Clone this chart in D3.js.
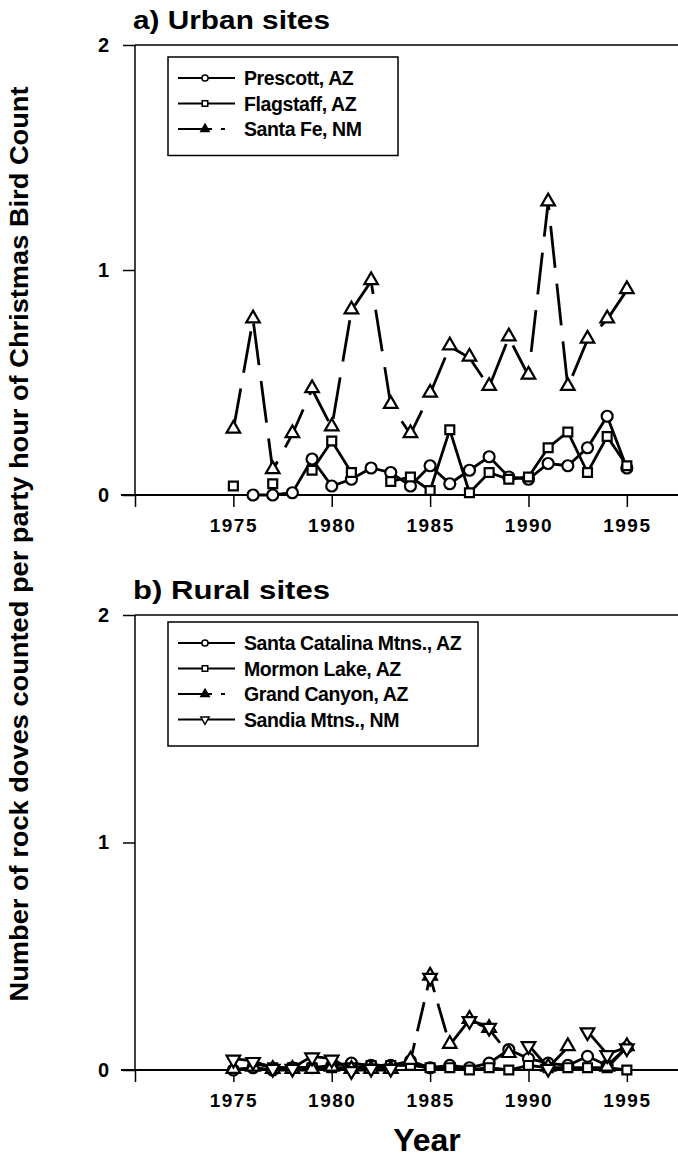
<!DOCTYPE html>
<html><head><meta charset="utf-8">
<script src="https://cdn.jsdelivr.net/npm/d3@7"></script>
<style>
body{margin:0;background:#fff;}
text{font-family:"Liberation Sans",Arial,sans-serif;font-weight:bold;fill:#000;}
</style></head>
<body>
<svg id="chart" width="678" height="1162"></svg>
<script>
const years = d3.range(1975, 1996);
const xTicks = [1970, 1975, 1980, 1985, 1990, 1995];
const xTickLabels = ["", "1975", "1980", "1985", "1990", "1995"];
const yTicks = [0, 1, 2];

// a) Urban sites
const prescott  = [null, 0.00, 0.00, 0.01, 0.16, 0.04, 0.07, 0.12, 0.10, 0.04, 0.13, 0.05, 0.11, 0.17, 0.08, 0.07, 0.14, 0.13, 0.21, 0.35, 0.12];
const flagstaff = [0.04, null, 0.05, null, 0.11, 0.24, 0.10, null, 0.06, 0.08, 0.02, 0.29, 0.01, 0.10, 0.07, 0.08, 0.21, 0.28, 0.10, 0.26, 0.13];
const santaFe   = [0.29, 0.78, 0.11, 0.27, 0.47, 0.30, 0.82, 0.95, 0.40, 0.27, 0.45, 0.66, 0.61, 0.48, 0.70, 0.53, 1.30, 0.48, 0.69, 0.78, 0.91];

// b) Rural sites
const santaCatalina = [0.00, 0.01, 0.00, 0.01, 0.01, 0.02, 0.03, 0.02, 0.02, 0.04, 0.01, 0.02, 0.01, 0.03, 0.09, 0.05, 0.03, 0.02, 0.06, 0.02, 0.10];
const mormonLake    = [null, 0.03, 0.01, 0.01, 0.01, 0.01, 0.01, 0.02, 0.02, 0.02, 0.01, 0.01, 0.00, 0.01, 0.00, 0.02, 0.01, 0.01, 0.01, 0.01, 0.00];
const grandCanyon   = [0.00, 0.01, 0.00, 0.00, 0.00, 0.01, 0.00, 0.00, 0.00, 0.04, 0.41, 0.11, 0.22, 0.18, 0.07, null, 0.01, 0.10, null, 0.01, 0.10];
const sandia        = [0.05, 0.04, 0.01, 0.01, 0.06, 0.05, 0.00, 0.01, 0.01, null, 0.41, null, 0.22, 0.19, null, 0.11, 0.01, null, 0.17, 0.07, 0.10];

const urbanNames = ["Prescott, AZ", "Flagstaff, AZ", "Santa Fe, NM"];
const ruralNames = ["Santa Catalina Mtns., AZ", "Mormon Lake, AZ", "Grand Canyon, AZ", "Sandia Mtns., NM"];

const svg = d3.select("#chart");
const x = d3.scaleLinear().domain([1970, 1997.6]).range([135, 678]);

const symbols = {
  circle: d3.symbol().type(d3.symbolCircle).size(95),
  square: d3.symbol().type(d3.symbolSquare).size(80),
  triangle: d3.symbol().type(d3.symbolTriangle).size(80),
  down: d3.symbol().type(d3.symbolTriangle).size(80)
};

function drawPanel(cfg) {
  const y = d3.scaleLinear().domain([0, 2]).range([cfg.y0, cfg.y2]);
  const g = svg.append("g");
  g.append("text").attr("x", 133).attr("y", cfg.y2 - 16).attr("font-size", 26)
    .attr("textLength", 197).attr("lengthAdjust", "spacingAndGlyphs").text(cfg.title);
  g.append("line").attr("x1", x(1970)).attr("x2", 678).attr("y1", y(2)).attr("y2", y(2))
    .attr("stroke", "#000").attr("stroke-width", 1.5);
  const xa = g.append("g").attr("transform", `translate(0,${y(0)})`)
    .call(d3.axisBottom(x).tickValues(xTicks).tickSize(12).tickPadding(12)
      .tickFormat((d, i) => xTickLabels[i]));
  xa.select(".domain").remove();
  xa.selectAll(".tick line").attr("stroke-width", 1.5);
  xa.selectAll(".tick text").attr("font-size", 19).attr("letter-spacing", 1.5)
    .style("font-family", '"Liberation Sans",Arial,sans-serif').style("font-weight", "bold");
  g.append("line").attr("x1", 121).attr("x2", 678).attr("y1", y(0)).attr("y2", y(0))
    .attr("stroke", "#000").attr("stroke-width", 2);
  const ya = g.append("g").attr("transform", `translate(${x(1970)},0)`)
    .call(d3.axisLeft(y).tickValues(yTicks).tickSize(12).tickPadding(14).tickFormat(d3.format("d")));
  ya.select(".domain").attr("stroke-width", 1.5).attr("d", `M0,${y(2)}V${y(0)}`);
  ya.selectAll(".tick line").attr("stroke-width", 1.5);
  ya.selectAll(".tick text").attr("font-size", 20)
    .style("font-family", '"Liberation Sans",Arial,sans-serif').style("font-weight", "bold");

  cfg.series.forEach(s => {
    const pts = years.map((yr, i) => ({yr, v: s.values[i]}));
    const line = d3.line().defined(d => d.v !== null).x(d => x(d.yr)).y(d => y(d.v));
    g.append("path").attr("d", line(pts)).attr("fill", "none").attr("stroke", "#000")
      .attr("stroke-width", 2.8).attr("stroke-dasharray", s.dash || null);
    g.selectAll(null).data(pts.filter(d => d.v !== null)).enter().append("path")
      .attr("d", symbols[s.sym]())
      .attr("transform", d => `translate(${x(d.yr)},${y(d.v) + (s.sym === "triangle" ? -1 : s.sym === "down" ? 1 : 0)})` + (s.sym === "down" ? " rotate(180)" : ""))
      .attr("fill", "#fff").attr("stroke", "#000").attr("stroke-width", 2.2);
  });

  const lg = g.append("g");
  const n = cfg.series.length;
  lg.append("rect").attr("x", 168).attr("y", cfg.legTop).attr("width", cfg.legW)
    .attr("height", 22 + n * 25.5).attr("fill", "#fff").attr("stroke", "#000").attr("stroke-width", 1.5);
  cfg.series.forEach((s, i) => {
    const cy = cfg.legTop + 21 + i * 25.5;
    if (s.dash) {
      lg.append("line").attr("x1", 178).attr("x2", 212).attr("y1", cy).attr("y2", cy).attr("stroke", "#000").attr("stroke-width", 2);
      lg.append("line").attr("x1", 221).attr("x2", 225).attr("y1", cy).attr("y2", cy).attr("stroke", "#000").attr("stroke-width", 2);
    } else {
      lg.append("line").attr("x1", 178).attr("x2", 235).attr("y1", cy).attr("y2", cy).attr("stroke", "#000").attr("stroke-width", 2);
    }
    const sm = d3.symbol().type(s.sym === "circle" ? d3.symbolCircle : s.sym === "square" ? d3.symbolSquare : d3.symbolTriangle).size(30);
    lg.append("path").attr("d", sm()).attr("transform", `translate(205,${cy})` + (s.sym === "down" ? " rotate(180)" : ""))
      .attr("fill", s.dash ? "#000" : "#fff").attr("stroke", "#000").attr("stroke-width", 1.5);
    lg.append("text").attr("x", 244).attr("y", cy + 7).attr("font-size", 19.5).attr("letter-spacing", -0.4).text(s.name);
  });
}

drawPanel({
  title: "a) Urban sites", y0: 495, y2: 45, legTop: 57, legW: 230,
  series: [
    {name: urbanNames[0], values: prescott, sym: "circle"},
    {name: urbanNames[1], values: flagstaff, sym: "square"},
    {name: urbanNames[2], values: santaFe, sym: "triangle", dash: "42,16"}
  ]
});
drawPanel({
  title: "b) Rural sites", y0: 1070, y2: 615, legTop: 622, legW: 310,
  series: [
    {name: ruralNames[0], values: santaCatalina, sym: "circle"},
    {name: ruralNames[1], values: mormonLake, sym: "square"},
    {name: ruralNames[2], values: grandCanyon, sym: "triangle", dash: "30,12"},
    {name: ruralNames[3], values: sandia, sym: "down"}
  ]
});

svg.append("text").attr("transform", "translate(28,544) rotate(-90)").attr("text-anchor", "middle")
  .attr("font-size", 25).attr("textLength", 915).attr("lengthAdjust", "spacingAndGlyphs")
  .text("Number of rock doves counted per party hour of Christmas Bird Count");
svg.append("text").attr("x", 427).attr("y", 1151).attr("text-anchor", "middle").attr("font-size", 32).text("Year");
</script>
</body></html>
